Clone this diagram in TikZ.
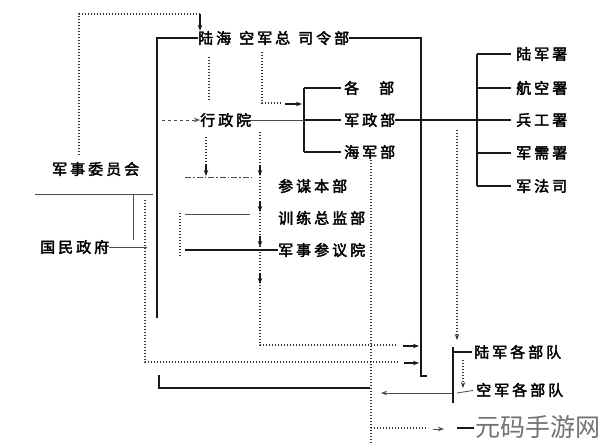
\documentclass[tikz,border=0pt]{standalone}
\usepackage{fontspec}
\newfontfamily\cjk[FakeBold=2.5,LetterSpace=20]{Noto Sans CJK SC}
\newfontfamily\wmfont{Noto Sans CJK SC}
\usetikzlibrary{arrows.meta}
\begin{document}
\begin{tikzpicture}[x=1pt,y=-1pt,
  lbl/.style={font=\cjk\fontsize{15}{15}\selectfont,inner sep=0pt,anchor=west},
  solidln/.style={line width=1.4pt,black!90},
  thinln/.style={line width=0.8pt,black!70},
  dotln/.style={line width=1.4pt,black!80,dash pattern=on 1.3pt off 1.7pt},
  tip/.style={-{Stealth[length=6pt,width=4.5pt]}},
]
\useasboundingbox (0,0) rectangle (600,445);
\fill[white] (0,0) rectangle (600,445);

% labels
\node[lbl] (zsl) at (198,38) {陆海\kern 8pt 空军总\kern 8pt 司令部};
\node[lbl] (xzy) at (200,120) {行政院};
\node[lbl] (gb) at (344,88) {各\kern 20pt 部};
\node[lbl] (jzb) at (344,120) {军政部};
\node[lbl] (hjb) at (344,152) {海军部};
\node[lbl] (cmbb) at (278,186) {参谋本部};
\node[lbl] (xlzjb) at (278,218) {训练总监部};
\node[lbl] (jscyy) at (278,250) {军事参议院};
\node[lbl] (jswyh) at (52,169) {军事委员会};
\node[lbl] (gmzf) at (40,247) {国民政府};
\node[lbl] (s1) at (516,54) {陆军署};
\node[lbl] (s2) at (516,88) {航空署};
\node[lbl] (s3) at (516,120) {兵工署};
\node[lbl] (s4) at (516,153) {军需署};
\node[lbl] (s5) at (516,186) {军法司};
\node[lbl] (ljbd) at (474,352) {陆军各部队};
\node[lbl] (kjbd) at (476,390) {空军各部队};

% committee -> HQ (dotted, top)
\coordinate (t1) at (79,155); \coordinate (t2) at (79,14); \coordinate (t3) at (200,14);
\draw[dotln] (t1) -- (t2) -- (t3);
\draw[solidln,tip] (t3) -- (t3 |- zsl.north);

% main left vertical
\coordinate (v1t) at (157,38); \coordinate (v1b) at (157,318);
\draw[solidln] (v1b) -- (v1t) -- (zsl.west);
\coordinate (xa) at (162,120);
\draw[thinln,dashed,tip] (xa) -- (xzy.west);

% HQ right side down
\coordinate (r1) at (421,38); \coordinate (r2) at (421,376); \coordinate (r3) at (427,376);
\draw[solidln] (zsl.east) -- (r1) -- (r2) -- (r3);

% army ministry -> bureaux bracket
\coordinate (b1) at (477,54); \coordinate (b2) at (477,186);
\draw[solidln] (jzb.east) -- (b1 |- jzb.east);
\draw[solidln] (b1) -- (b2);
\foreach \s in {s1,s2,s3,s4,s5} \draw[solidln,shorten >=5pt] (b1 |- \s.west) -- (\s.west);

% executive yuan bracket
\coordinate (m1) at (304,88); \coordinate (m2) at (304,152);
\draw[solidln] (m1) -- (m2);
\foreach \s in {gb,jzb,hjb} \draw[solidln,shorten >=3pt] (m1 |- \s.west) -- (\s.west);
\draw[thinln] (xzy.east) -- (m1 |- xzy.east);

% dotted HQ -> bracket arrow
\coordinate (d1) at (262,52); \coordinate (d2) at (262,103); \coordinate (d3) at (281,103);
\draw[dotln] (d1) -- (d2) -- (d3);
\coordinate (a1) at (285,104); \coordinate (a2) at (302,104);
\draw[solidln,tip] (a1) -- (a2);

% dotted stubs at x=208
\coordinate (e1) at (209,57); \coordinate (e2) at (209,100);
\draw[dotln] (e1) -- (e2);
\coordinate (e3) at (206,137); \coordinate (e4) at (206,176);
\draw[dotln] (e3) -- (e4);
\draw[solidln,tip] (206,164) -- (e4);

% left group lines
\coordinate (g1) at (185,177); \coordinate (g2) at (253,177);
\draw[thinln,dash pattern=on 6pt off 2pt on 1.5pt off 2pt] (g1) -- (g2);
\coordinate (g3) at (185,214); \coordinate (g4) at (250,214);
\draw[thinln] (g3) -- (g4);
\coordinate (g5) at (185,250);
\draw[solidln] (g5) -- (jscyy.west);
\coordinate (g6) at (180,213); \coordinate (g7) at (180,257);
\draw[dotln] (g6) -- (g7);

% dotted x=260 down to army units
\coordinate (p1) at (260,132); \coordinate (p2) at (260,345); \coordinate (p3) at (398,345);
\draw[dotln] (p1) -- (p2) -- (p3);
\foreach \y in {176,212,247,284} \draw[solidln,tip] (260,\y-11) -- (260,\y);
\coordinate (p4) at (403,346); \coordinate (p5) at (419,346);
\draw[solidln,tip] (p4) -- (p5);

% national government
\coordinate (n1) at (35,194); \coordinate (n2) at (153,194);
\draw[thinln] (n1) -- (n2);
\coordinate (n3) at (133,194); \coordinate (n4) at (133,240);
\draw[thinln] (n3) -- (n4);
\coordinate (n5) at (147,247);
\draw[thinln] (gmzf.east) -- (n5);
\coordinate (q1) at (145,200); \coordinate (q2) at (145,362); \coordinate (q3) at (398,362);
\draw[dotln] (q1) -- (q2) -- (q3);
\coordinate (q4) at (404,363); \coordinate (q5) at (419,363);
\draw[solidln,tip] (q4) -- (q5);

% bottom solid line
\coordinate (u1) at (159,375); \coordinate (u2) at (159,388); \coordinate (u3) at (370,388);
\draw[solidln] (u1) -- (u2) -- (u3);
\coordinate (u4) at (452,393); \coordinate (u5) at (381,393);
\draw[thinln,tip] (u4) -- (u5);

% navy dotted down
\coordinate (w1) at (371,160); \coordinate (w2) at (371,443);
\draw[dotln] (w1) -- (w2);
\coordinate (w3) at (371,428); \coordinate (w4) at (428,428);
\draw[dotln] (w3) -- (w4);
\coordinate (w5) at (433,429); \coordinate (w6) at (444,429);
\draw[thinln,tip] (w5) -- (w6);
\coordinate (w7) at (457,428); \coordinate (w8) at (474,428);
\draw[solidln] (w7) -- (w8);

% dotted to army units, and units bracket
\coordinate (k1) at (457,130); \coordinate (k2) at (457,340);
\draw[dotln,tip] (k1) -- (k2);
\coordinate (k3) at (453,347); \coordinate (k4) at (453,403);
\draw[solidln] (k3) -- (k4);
\draw[solidln,shorten >=2pt] (k3 |- ljbd.west) -- (ljbd.west);
\coordinate (k5) at (457,393);
\draw[thinln,shorten >=3pt] (k5) -- (kjbd.west);
\coordinate (k6) at (463,360); \coordinate (k7) at (463,388);
\draw[dotln,tip] (k6) -- (k7);

% watermark
\node[font=\wmfont\fontsize{25}{25}\selectfont,text=black!55,inner sep=0pt] (wmk) at (538,427) {元码手游网};
\end{tikzpicture}
\end{document}
